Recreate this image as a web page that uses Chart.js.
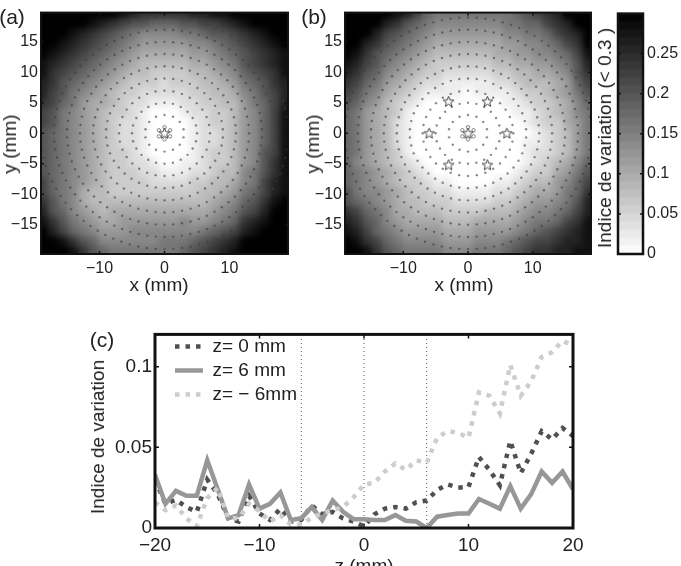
<!DOCTYPE html>
<html>
<head>
<meta charset="utf-8">
<title>Indice de variation</title>
<script src="https://cdn.jsdelivr.net/npm/chart.js@4"></script>
<style>
    html, body { margin: 0; padding: 0; background: #fff; }
    #page { position: relative; width: 681px; height: 566px; overflow: hidden; filter: blur(0.4px); font-family: "Liberation Sans", Arial, sans-serif; color: #222; }
    canvas { position: absolute; }
    .txt { position: absolute; white-space: nowrap; transform: translate(-50%, -50%); }
</style>
</head>
<body>
<div id="page">
    <canvas id="chart-a" width="295" height="275" style="left:0;top:0"></canvas>
    <canvas id="chart-b" width="300" height="275" style="left:298px;top:0"></canvas>
    <canvas id="chart-bar" width="81" height="275" style="left:600px;top:0"></canvas>
    <canvas id="chart-c" width="490" height="246" style="left:100px;top:320px"></canvas>
</div>
<script>
// heat maps: one hex digit per cell, 1 step = 0.02
const cellX = [-18.6, -17.05, -15.5, -13.95, -12.4, -10.85, -9.3, -7.75, -6.2, -4.65, -3.1, -1.55, 0, 1.55, 3.1, 4.65, 6.2, 7.75, 9.3, 10.85, 12.4, 13.95, 15.5, 17.05, 18.6];
const cellY = [19.44, 17.82, 16.2, 14.58, 12.96, 11.34, 9.72, 8.1, 6.48, 4.86, 3.24, 1.62, 0, -1.62, -3.24, -4.86, -6.48, -8.1, -9.72, -11.34, -12.96, -14.58, -16.2, -17.82, -19.44];
const heatA = [
    'fffff fffed ccccc ddeef fffff',
    'fffff edcba a999a abbcd effff',
    'fffed cba98 77778 89aab cdeff',
    'ffedc ba987 66666 7789a bcdef',
    'fedcb a9876 55555 66789 abcde',
    'edcba 98765 44444 55678 abcde',
    'ecba9 87654 43333 44567 9abce',
    'dca98 76543 33233 34456 89acd',
    'dba87 65433 22222 33445 78abd',
    'cb986 55432 21112 23344 689bd',
    'ba876 54332 10001 22334 679be',
    'ba876 54322 10000 12334 679be',
    'a9876 54322 10000 12234 679be',
    'a9876 54322 10000 12234 679be',
    'a9876 54332 10000 12334 67abe',
    'a9876 54332 21001 12334 67ace',
    'a9876 54333 22111 22344 78ace',
    'b9876 54333 32222 33445 78bde',
    'b9875 44333 33333 34456 89bde',
    'ca875 44444 44444 44567 9acef',
    'da976 54555 55555 55678 abdff',
    'eca87 65566 66667 66789 cdeff',
    'fdb98 76667 77777 789ab defff',
    'ffeca 97777 77888 9abcd fffff',
    'fffec a9888 88889 abcde fffff'
];
const heatB = [
    'fffff edb98 88888 889ab cdfff',
    'ffffd ca987 77777 78899 bcdff',
    'fffdb a9876 66666 67788 9bcdf',
    'ffdca 98765 55555 56677 89bcf',
    'feca9 87654 44444 55667 789be',
    'edba8 76543 33333 44556 678ad',
    'dca97 65433 22222 33445 567ac',
    'cb986 54322 11111 22344 4569b',
    'ba875 43211 11011 11233 4568a',
    'a9764 32100 00000 01123 34579',
    '98654 31000 00000 00112 34578',
    '98654 21000 00000 00012 33568',
    '98654 21000 00000 00001 23468',
    '98654 21000 00000 00011 23468',
    '98654 31000 00000 00012 23468',
    '97654 32100 00000 00012 34579',
    '98765 43210 00000 00123 3568a',
    '98765 43321 10000 11234 4679b',
    'a8776 54332 21111 22345 5689c',
    'a9876 54433 32222 33456 678ad',
    'cb987 55444 33334 44567 789bd',
    'dca97 65555 44455 55678 89bce',
    'edb98 76666 55566 66789 abcde',
    'fecb9 87777 66677 789ab bcdde',
    'ffeca 98888 77788 89abc cddee'
];

// measurement points: ring radii (mm) and marks counted per ring on the picture
const ringRadii = [3, 5, 7, 9, 11, 13, 15, 17, 19];
const ringCounts = [14, 24, 32, 42, 52, 60, 70, 80, 88];
const innerRadius = 1;
const innerCount = 6;
const starsAX = [0];
const starsAY = [0];
const starsBX = [0, 6, 3, -3, -6, -3, 3];
const starsBY = [0, 0, 5.2, 5.2, 0, -5.2, -5.2];

const mapTicksX = [-10, 0, 10];
const mapTicksY = [-15, -10, -5, 0, 5, 10, 15];

// colour bar
const barLevels = [0, 0.01, 0.02, 0.03, 0.04, 0.05, 0.06, 0.07, 0.08, 0.09, 0.1, 0.11, 0.12, 0.13, 0.14, 0.15, 0.16, 0.17, 0.18, 0.19, 0.2, 0.21, 0.22, 0.23, 0.24, 0.25, 0.26, 0.27, 0.28, 0.29];
const barTicks = [0, 0.05, 0.1, 0.15, 0.2, 0.25];

// panel (c)
const zValues = [-20, -19, -18, -17, -16, -15, -14, -13, -12, -11, -10, -9, -8, -7, -6, -5, -4, -3, -2, -1, 0, 1, 2, 3, 4, 5, 6, 7, 8, 9, 10, 11, 12, 13, 14, 15, 16, 17, 18, 19, 20];
const seriesZ0 = [0.030, 0.015, 0.0175, 0.013, 0.010, 0.030, 0.021, 0.006, 0.004, 0.020, 0.009, 0.005, 0.012, 0.004, 0.005, 0.014, 0.0085, 0.010, 0.006, 0.004, 0.001, 0.0085, 0.012, 0.013, 0.012, 0.016, 0.017, 0.0236, 0.027, 0.025, 0.0255, 0.044, 0.036, 0.0265, 0.054, 0.034, 0.046, 0.060, 0.055, 0.062, 0.057];
const seriesZ6 = [0.033, 0.015, 0.023, 0.020, 0.020, 0.042, 0.024, 0.006, 0.008, 0.027, 0.012, 0.015, 0.022, 0.005, 0.006, 0.013, 0.005, 0.017, 0.010, 0.0055, 0.0055, 0.005, 0.005, 0.008, 0.0045, 0.004, 0, 0.007, 0.008, 0.009, 0.009, 0.018, 0.015, 0.012, 0.026, 0.012, 0.021, 0.035, 0.028, 0.035, 0.024];
const seriesZm6 = [0.016, 0.011, 0.014, 0.006, 0.001, 0.0185, 0.025, 0.006, 0.006, 0.015, 0.0105, 0.004, 0.008, 0.002, 0.002, 0.0065, 0.009, 0.011, 0.013, 0.019, 0.027, 0.028, 0.035, 0.040, 0.036, 0.042, 0.0405, 0.056, 0.060, 0.059, 0.056, 0.084, 0.082, 0.071, 0.101, 0.082, 0.091, 0.106, 0.109, 0.116, 0.113];
const guideZ = [-6, 0, 6];
const lineTicksX = [-20, -10, 0, 10, 20];
const lineTicksY = [0, 0.05, 0.1];

function grayFor(v) {
    const g = Math.round(255 * (1 - Math.min(v, 0.3) / 0.3));
    return `rgb(${g},${g},${g})`;
}

function tickText(v) {
    return String(v).replace('-', '\u2212');
}

function addText(text, x, y, size, rotate) {
    const el = document.createElement('div');
    el.className = 'txt';
    el.textContent = text;
    el.style.left = x + 'px';
    el.style.top = y + 'px';
    el.style.fontSize = size + 'px';
    if (rotate) el.style.transform = 'translate(-50%, -50%) rotate(-90deg)';
    document.getElementById('page').appendChild(el);
}

// box round the plot and matlab style ticks pointing inwards
const framePlugin = {
    id: 'frame',
    afterDraw(chart, args, opts) {
        const { ctx, chartArea: a, scales } = chart;
        ctx.save();
        ctx.strokeStyle = '#111';
        ctx.lineWidth = 1.5;
        if (scales.x && scales.x.options.display) {
            scales.x.ticks.forEach((t) => {
                const p = scales.x.getPixelForValue(t.value);
                ctx.beginPath();
                ctx.moveTo(p, a.bottom); ctx.lineTo(p, a.bottom - opts.tick);
                ctx.moveTo(p, a.top); ctx.lineTo(p, a.top + opts.tick);
                ctx.stroke();
            });
        }
        scales.y.ticks.forEach((t) => {
            const p = scales.y.getPixelForValue(t.value);
            ctx.beginPath();
            ctx.moveTo(a.left, p); ctx.lineTo(a.left + opts.tick, p);
            ctx.moveTo(a.right, p); ctx.lineTo(a.right - opts.tick, p);
            ctx.stroke();
        });
        ctx.lineWidth = opts.width;
        ctx.strokeRect(a.left, a.top, a.right - a.left, a.bottom - a.top);
        ctx.restore();
    }
};

// smooth the heat cells once they are painted, the picture has soft contours
const smoothPlugin = {
    id: 'smooth',
    afterDatasetDraw(chart, args) {
        if (!chart.data.datasets[args.index].isHeat) return;
        const { ctx, chartArea: a, canvas } = chart;
        const w = a.right - a.left;
        const h = a.bottom - a.top;
        ctx.save();
        ctx.beginPath();
        ctx.rect(a.left, a.top, w, h);
        ctx.clip();
        ctx.filter = 'blur(3px)';
        ctx.drawImage(canvas, a.left, a.top, w, h, a.left, a.top, w, h);
        ctx.restore();
    }
};

function starImage() {
    const c = document.createElement('canvas');
    c.width = 13; c.height = 13;
    const g = c.getContext('2d');
    g.strokeStyle = '#444';
    g.lineWidth = 1;
    g.beginPath();
    for (let i = 0; i < 10; i++) {
        const r = i % 2 ? 2.4 : 5.6;
        const t = -Math.PI / 2 + i * Math.PI / 5;
        g.lineTo(6.5 + r * Math.cos(t), 6.8 + r * Math.sin(t));
    }
    g.closePath();
    g.stroke();
    return c;
}

// positions on a ring follow from its radius and count, no coordinates read per mark
function ringPoints(r, n) {
    const out = [];
    for (let i = 0; i < n; i++) {
        const t = Math.PI / 2 + i * 2 * Math.PI / n;
        out.push({ x: r * Math.cos(t), y: r * Math.sin(t) });
    }
    return out;
}

function makeMap(id, rows, starsX, starsY, leftWidth, rightPad) {
    const cells = [];
    const colours = [];
    rows.forEach((row, j) => {
        row.replace(/ /g, '').split('').forEach((ch, i) => {
            const v = parseInt(ch, 16) * 0.02;
            cells.push({ x: cellX[i], y: cellY[j] });
            colours.push(grayFor(v));
        });
    });
    const marks = [];
    ringRadii.forEach((r, i) => marks.push(...ringPoints(r, ringCounts[i])));

    new Chart(document.getElementById(id), {
        type: 'scatter',
        data: {
            datasets: [
                { data: starsX.map((x, i) => ({ x: x, y: starsY[i] })), pointStyle: starImage(), pointRadius: 6 },
                { data: ringPoints(innerRadius, innerCount), pointRadius: 1.7, pointBackgroundColor: 'rgba(255,255,255,0.2)', pointBorderColor: '#666', pointBorderWidth: 0.8 },
                { data: marks, pointRadius: 1.2, pointBackgroundColor: 'rgba(60,60,60,0.6)', pointBorderWidth: 0 },
                { data: cells, isHeat: true, pointStyle: 'rect', pointRadius: 8.2, pointBackgroundColor: colours, pointBorderWidth: 0 }
            ]
        },
        options: {
            responsive: false,
            animation: false,
            events: [],
            layout: { autoPadding: false, padding: { top: 7, right: rightPad } },
            plugins: { legend: { display: false }, tooltip: { enabled: false }, frame: { width: 2, tick: 3 } },
            scales: {
                x: {
                    type: 'linear', min: -19, max: 19,
                    grid: { display: false, drawTicks: false }, border: { display: false },
                    afterBuildTicks: (s) => { s.ticks = mapTicksX.map((v) => ({ value: v })); },
                    afterFit: (s) => { s.height = 21; },
                    ticks: { callback: tickText, maxRotation: 0, padding: 5, color: '#222', font: { size: 16, family: 'Liberation Sans' } }
                },
                y: {
                    type: 'linear', min: -19.8, max: 19.8,
                    grid: { display: false, drawTicks: false }, border: { display: false },
                    afterBuildTicks: (s) => { s.ticks = mapTicksY.map((v) => ({ value: v })); },
                    afterFit: (s) => { s.width = leftWidth; },
                    ticks: { callback: tickText, padding: 3, color: '#222', font: { size: 16, family: 'Liberation Sans' } }
                }
            }
        },
        plugins: [framePlugin, smoothPlugin]
    });
}

function makeBar() {
    new Chart(document.getElementById('chart-bar'), {
        type: 'bar',
        data: {
            labels: [''],
            datasets: barLevels.map((v) => ({ data: [[v, v + 0.01]], backgroundColor: grayFor(v + 0.005), barPercentage: 1, categoryPercentage: 1 }))
        },
        options: {
            responsive: false,
            animation: false,
            events: [],
            layout: { autoPadding: false, padding: { top: 6, bottom: 21, left: 18 } },
            plugins: { legend: { display: false }, tooltip: { enabled: false }, frame: { width: 2.5, tick: 3 } },
            scales: {
                x: { display: false, stacked: true },
                y: {
                    position: 'right', min: 0, max: 0.3,
                    grid: { display: false, drawTicks: false }, border: { display: false },
                    afterBuildTicks: (s) => { s.ticks = barTicks.map((v) => ({ value: v })); },
                    afterFit: (s) => { s.width = 38; },
                    ticks: { callback: tickText, padding: 4, color: '#222', font: { size: 16, family: 'Liberation Sans' } }
                }
            }
        },
        plugins: [framePlugin]
    });
}

function legendItems(chart) {
    const items = Chart.defaults.plugins.legend.labels.generateLabels(chart);
    items.forEach((item) => {
        const ds = chart.data.datasets[item.datasetIndex];
        item.lineDash = ds.borderDash || [];
        item.strokeStyle = ds.borderColor;
        item.lineWidth = ds.borderWidth;
    });
    return items;
}

function makeLines() {
    const pts = (vals) => zValues.map((z, i) => ({ x: z, y: vals[i] }));
    const guide = (z) => ({
        label: 'guide',
        data: [{ x: z, y: 0 }, { x: z, y: 0.12 }],
        borderColor: '#555', borderWidth: 1, borderDash: [1, 3], pointRadius: 0
    });
    new Chart(document.getElementById('chart-c'), {
        type: 'line',
        data: {
            datasets: [
                { label: 'z= \u2212 6mm', data: pts(seriesZm6), borderColor: '#cdcdcd', borderWidth: 4.5, borderDash: [4.5, 6], pointRadius: 0, tension: 0 },
                { label: 'z= 6 mm', data: pts(seriesZ6), borderColor: '#979797', borderWidth: 4.5, pointRadius: 0, tension: 0 },
                { label: 'z= 0 mm', data: pts(seriesZ0), borderColor: '#505050', borderWidth: 4.5, borderDash: [4.5, 6], pointRadius: 0, tension: 0 },
                ...guideZ.map(guide)
            ]
        },
        options: {
            responsive: false,
            animation: false,
            events: [],
            layout: { autoPadding: false, padding: { top: 10, right: 17 } },
            plugins: {
                tooltip: { enabled: false },
                frame: { width: 3, tick: 4 },
                legend: {
                    position: 'chartArea',
                    align: 'start',
                    reverse: true,
                    labels: {
                        usePointStyle: true, pointStyle: 'line', pointStyleWidth: 28, boxWidth: 28, boxHeight: 8,
                        padding: 5, color: '#222', font: { size: 19, family: 'Liberation Sans' },
                        generateLabels: legendItems,
                        filter: (item) => item.text !== 'guide'
                    }
                }
            },
            scales: {
                x: {
                    type: 'linear', min: -20, max: 20,
                    grid: { display: false, drawTicks: false }, border: { display: false },
                    afterBuildTicks: (s) => { s.ticks = lineTicksX.map((v) => ({ value: v })); },
                    afterFit: (s) => { s.height = 38; },
                    ticks: { callback: tickText, maxRotation: 0, padding: 6, color: '#222', font: { size: 19, family: 'Liberation Sans' } }
                },
                y: {
                    type: 'linear', min: 0, max: 0.12,
                    grid: { display: false, drawTicks: false }, border: { display: false },
                    afterBuildTicks: (s) => { s.ticks = lineTicksY.map((v) => ({ value: v })); },
                    afterFit: (s) => { s.width = 55; },
                    ticks: { callback: tickText, padding: 3, color: '#222', font: { size: 19, family: 'Liberation Sans' } }
                }
            }
        },
        plugins: [framePlugin, {
            id: 'legendShift',
            afterLayout(chart) {
                chart.legend.left += 15;
                chart.legend.top += 12;
            }
        }]
    });
}

makeMap('chart-a', heatA, starsAX, starsAY, 41, 7);
makeMap('chart-b', heatB, starsBX, starsBY, 47, 7);
makeBar();
makeLines();

addText('(a)', 12, 17, 21);
addText('(b)', 314, 17, 21);
addText('(c)', 102, 340, 21);
addText('x (mm)', 159, 285, 19);
addText('x (mm)', 464, 285, 19);
addText('y (mm)', 10, 144, 19, true);
addText('y (mm)', 313, 144, 19, true);
addText('Indice de variation (< 0.3 )', 605, 138, 19, true);
addText('Indice de variation', 98, 437, 19, true);
addText('z (mm)', 364, 566, 19);
</script>
</body>
</html>
